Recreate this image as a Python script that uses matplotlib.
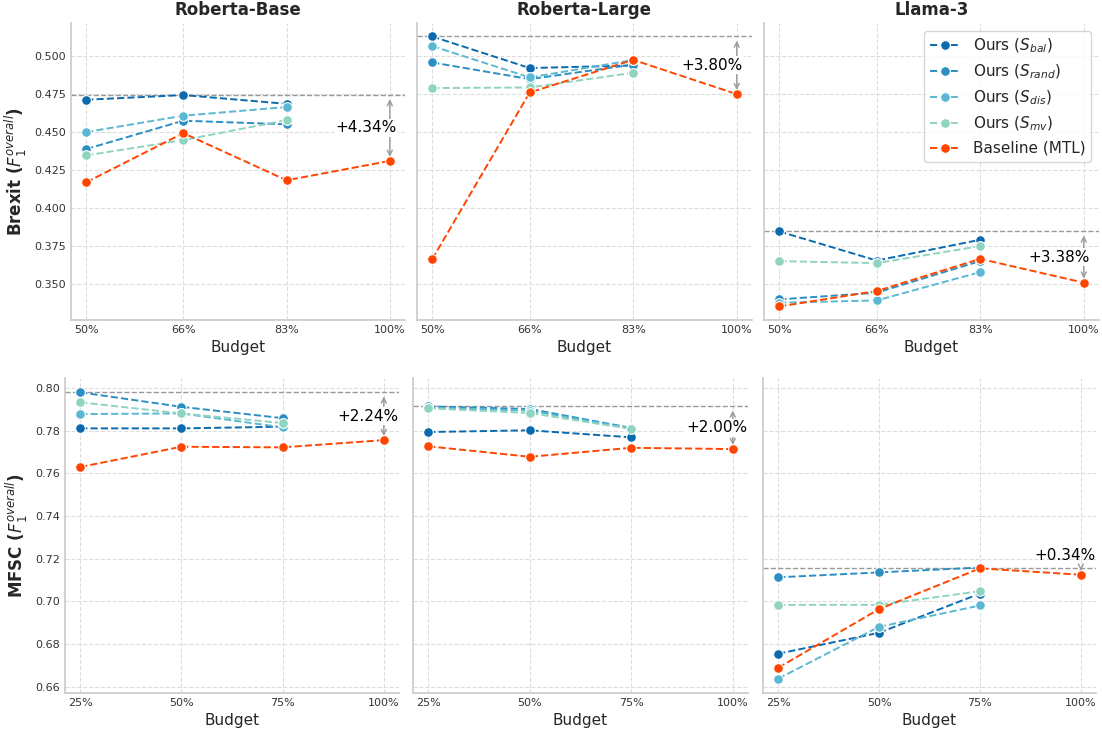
import matplotlib
matplotlib.use("Agg")
import matplotlib.pyplot as plt
import seaborn as sns

sns.set_theme(style="whitegrid")
plt.rcParams['font.family'] = ['DejaVu Sans']

models = ["Roberta-Base", "Roberta-Large", "Llama-3"]
datasets = ["Brexit", "MFSC"]
series_names = ["Ours ($S_{bal}$)", "Ours ($S_{rand}$)", "Ours ($S_{dis}$)", "Ours ($S_{mv}$)"]
baseline_name = "Baseline (MTL)"

budgets_brexit = [50, 66, 83]
budgets_brexit_base = [50, 66, 83, 100]
budgets_mfsc = [25, 50, 75]
budgets_mfsc_base = [25, 50, 75, 100]

# Brexit
brexit_rb = {
    "bal": [0.4713, 0.4744, 0.4686],
    "rand": [0.4388, 0.4575, 0.4551],
    "dis": [0.4500, 0.4608, 0.4665],
    "mv": [0.4346, 0.4447, 0.4579],
}
brexit_rb_base = [0.4169, 0.4493, 0.4182, 0.4310]

brexit_rl = {
    "bal": [0.5130, 0.4922, 0.4939],
    "rand": [0.4959, 0.4849, 0.4945],
    "dis": [0.5067, 0.4860, 0.4975],
    "mv": [0.4790, 0.4794, 0.4891],
}
brexit_rl_base = [0.3662, 0.4761, 0.4976, 0.4750]

brexit_ll = {
    "bal": [0.3845, 0.3653, 0.3790],
    "rand": [0.3397, 0.3441, 0.3650],
    "dis": [0.3375, 0.3390, 0.3577],
    "mv": [0.3649, 0.3636, 0.3748],
}
brexit_ll_base = [0.3350, 0.3452, 0.3664, 0.3507]

# MFSC
mfsc_rb = {
    "bal": [0.7811, 0.7811, 0.7819],
    "rand": [0.7980, 0.7912, 0.7859],
    "dis": [0.7878, 0.7881, 0.7816],
    "mv": [0.7933, 0.7881, 0.7836],
}
mfsc_rb_base = [0.7630, 0.7725, 0.7722, 0.7756]

mfsc_rl = {
    "bal": [0.7794, 0.7802, 0.7769],
    "rand": [0.7914, 0.7902, 0.7813],
    "dis": [0.7908, 0.7894, 0.7811],
    "mv": [0.7905, 0.7883, 0.7808],
}
mfsc_rl_base = [0.7727, 0.7678, 0.7720, 0.7714]

mfsc_ll = {
    "bal": [0.6755, 0.6853, 0.7037],
    "rand": [0.7113, 0.7136, 0.7159],
    "dis": [0.6638, 0.6881, 0.6981],
    "mv": [0.6984, 0.6984, 0.7048],
}
mfsc_ll_base = [0.6689, 0.6964, 0.7155, 0.7125]

gain_labels = [["+4.34%", "+3.80%", "+3.38%"], ["+2.24%", "+2.00%", "+0.34%"]]

keys = ["bal", "rand", "dis", "mv"]
colors = ["#0b6aae", "#2b8fc4", "#5bb8d3", "#8fd4c0"]
base_color = "#ff4500"

grid_data = [
    [(brexit_rb, brexit_rb_base), (brexit_rl, brexit_rl_base), (brexit_ll, brexit_ll_base)],
    [(mfsc_rb, mfsc_rb_base), (mfsc_rl, mfsc_rl_base), (mfsc_ll, mfsc_ll_base)],
]
row_x = [(budgets_brexit, budgets_brexit_base), (budgets_mfsc, budgets_mfsc_base)]

fig, axes = plt.subplots(2, 3, figsize=(11.02, 7.31), dpi=100, sharey='row')
W, H = 1102, 731
pos = [
    [(71, 23, 334, 297), (417, 23, 335, 297), (764, 23, 335, 297)],
    [(65, 378, 334, 315), (413, 378, 335, 315), (763, 378, 333, 315)],
]

for r in range(2):
    xs, xb = row_x[r]
    for c in range(3):
        ax = axes[r, c]
        x0, y0, w, h = pos[r][c]
        ax.set_position([x0 / W, 1 - (y0 + h) / H, w / W, h / H])
        ours, base = grid_data[r][c]
        for k, name, col in zip(keys, series_names, colors):
            ax.plot(xs, ours[k], linestyle='--', marker='o', color=col, lw=1.4,
                    markersize=7, markeredgecolor='white', markeredgewidth=0.8, label=name, zorder=3)
        ax.plot(xb, base, linestyle='--', marker='o', color=base_color, lw=1.4,
                markersize=7, markeredgecolor='white', markeredgewidth=0.8, label=baseline_name, zorder=4)
        best = max(max(v) for v in ours.values())
        final = base[-1]
        ax.axhline(best, color='#999999', linestyle='--', lw=1, zorder=2)
        xe = xb[-1]
        ax.annotate("", xy=(xe, best), xytext=(xe, final),
                    arrowprops=dict(arrowstyle='<->', color='#999999', lw=1,
                                    mutation_scale=9, shrinkA=3, shrinkB=3), zorder=2)
        if abs(best - final) < 0.01:
            ax.annotate(gain_labels[r][c], xy=(xe - 4, best), xytext=(0, 3),
                        textcoords='offset points', ha='center', va='bottom', fontsize=11,
                        color='black', zorder=5)
        else:
            ax.text(xe - 4, (best + final) / 2, gain_labels[r][c], ha='center', va='center',
                    fontsize=11, color='black', zorder=5,
                    bbox=dict(facecolor='white', edgecolor='none', pad=1))
        ax.set_xticks(xb)
        ax.set_xticklabels([f"{v}%" for v in xb])
        ax.set_xlabel("Budget", fontsize=11)
        ax.tick_params(axis='both', labelsize=8, colors='#333333', length=0)
        ax.grid(True, linestyle='--', color='#dddddd', lw=0.8)
        sns.despine(ax=ax)
        for s in ['left', 'bottom']:
            ax.spines[s].set_color('#cccccc')
        if r == 0:
            ax.set_title(models[c], fontsize=12, fontweight='bold')
        if c == 0:
            ax.set_ylabel(datasets[r] + " ($F_1^{overall}$)", fontsize=12, fontweight='bold')

axes[0, 2].legend(loc='upper right', fontsize=11, frameon=True)

fig.savefig("out.png", dpi=100)
